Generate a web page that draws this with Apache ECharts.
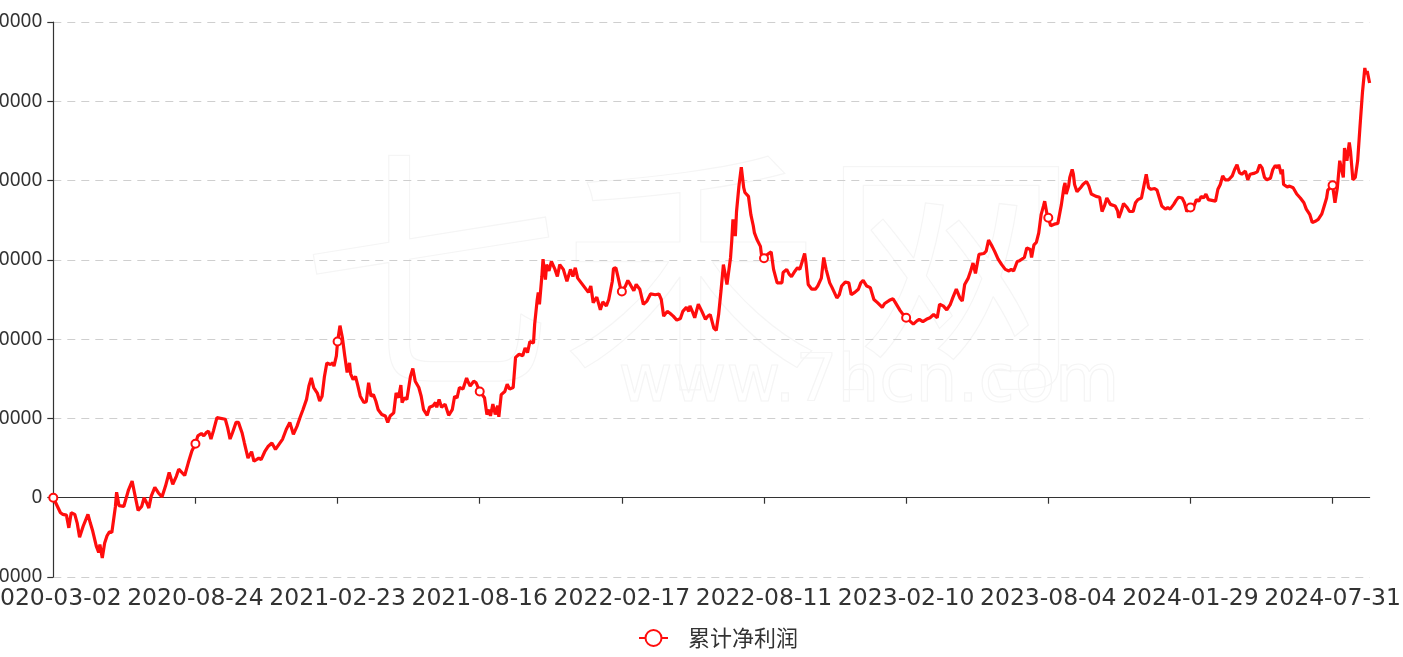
<!DOCTYPE html>
<html><head><meta charset="utf-8">
<script src="https://cdn.jsdelivr.net/npm/echarts@6/dist/echarts.min.js"></script>
<style>html,body{margin:0;padding:0;background:#fff}#c{width:1403px;height:657px}</style>
</head><body><div id="c"></div>
<script>
const seriesName = '累计净利润';
const watermarkTitle = '七禾网';
const watermarkUrl = 'www.7hcn.com';
const tickLabels = ['2020-03-02','2020-08-24','2021-02-23','2021-08-16','2022-02-17','2022-08-11','2023-02-10','2023-08-04','2024-01-29','2024-07-31'];
const tickDays = [0,119,238,357,476,595,714,833,952,1071];
const lastDay = 1102;
const yMin = -100000, yMax = 600000, yStep = 100000;
// trading-day index of each vertex
const days = [0,6,8,11,13,15,18,20,22,25,29,31,33,36,38,39,41,43,45,47,49,52,53,55,59,60,63,66,68,71,74,76,78,80,82,85,88,91,94,97,100,103,105,110,113,116,
119,121,124,126,128,130,132,134,137,144,146,148,150,153,155,158,160,163,166,168,172,174,177,180,183,186,192,195,198,201,204,207,209,212,214,216,218,221,223,225,227,229,232,234,235,237,
238,240,242,244,246,248,249,251,253,255,257,260,262,264,266,268,270,272,275,278,280,282,285,287,289,291,292,294,296,299,301,303,306,308,310,313,315,318,320,321,323,325,328,331,334,336,338,340,343,346,347,349,352,354,
357,361,363,365,366,368,370,372,373,375,378,380,382,385,387,390,393,395,397,399,402,403,405,406,407,409,410,412,413,415,417,420,422,424,427,430,433,435,437,439,442,445,448,450,452,455,458,460,463,465,468,469,471,473,475,
476,479,481,483,486,488,491,494,497,500,504,507,509,511,514,516,519,522,525,527,530,532,533,535,537,540,543,546,548,550,553,555,557,559,561,562,564,567,568,569,571,572,574,576,578,579,582,584,586,587,589,590,592,593,
595,598,601,603,606,610,611,614,616,618,621,623,625,627,629,630,632,635,638,640,643,645,647,650,652,656,658,660,663,666,668,671,674,676,678,681,684,687,690,694,696,700,703,705,709,712,
714,717,720,723,725,728,731,734,737,740,742,745,748,751,753,756,759,761,763,766,768,770,772,774,775,779,781,783,786,788,791,794,797,800,802,804,807,809,813,815,818,819,821,823,825,827,829,830,832,
833,835,838,841,844,846,847,848,850,851,853,854,855,857,860,862,865,867,869,873,876,878,880,882,885,889,891,892,894,896,899,901,904,906,908,911,913,915,917,919,922,924,926,928,931,933,935,938,940,942,945,947,949,
952,954,957,959,961,963,965,967,970,973,975,977,979,981,984,987,989,991,993,995,998,1000,1002,1005,1008,1010,1012,1014,1016,1019,1021,1023,1025,1026,1028,1029,1030,1033,1035,1038,1041,1044,1047,1049,1052,1054,1057,1059,1062,1064,1066,1067,
1071,1072,1073,1075,1077,1080,1081,1083,1085,1086,1088,1090,1092,1094,1096,1098,1099,1100,1102];
// cumulative net profit at each vertex
const values = [0,-19000,-21000,-22000,-38000,-19000,-21000,-32000,-50000,-36000,-21000,-32000,-42000,-61000,-69000,-59000,-76000,-57000,-48000,-43000,-44000,-11000,7000,-10000,-11000,-11000,10000,21000,6000,-16000,-11000,0,-6000,-13000,2000,13000,6000,1000,15000,32000,17000,27000,36000,28000,44000,59000,
68000,78000,81000,78000,82000,84000,74000,84000,101000,99000,88000,74000,82000,95000,95000,82000,69000,50000,58000,46000,50000,48000,58000,65000,69000,61000,74000,86000,95000,80000,90000,103000,111000,124000,141000,151000,139000,132000,122000,128000,153000,170000,168000,170000,166000,179000,
197000,217000,202000,179000,158000,170000,156000,149000,153000,141000,128000,120000,121000,145000,128000,130000,122000,111000,105000,103000,95000,103000,107000,132000,126000,142000,120000,126000,124000,153000,163000,147000,139000,128000,111000,104000,114000,116000,120000,114000,124000,114000,118000,104000,111000,128000,126000,139000,137000,151000,147000,141000,147000,145000,
134000,126000,105000,111000,103000,118000,105000,116000,102000,130000,134000,143000,137000,139000,177000,181000,179000,189000,183000,197000,195000,219000,248000,259000,244000,279000,301000,275000,294000,286000,298000,288000,279000,294000,288000,273000,288000,279000,290000,277000,271000,265000,259000,267000,246000,253000,237000,247000,242000,250000,273000,289000,290000,277000,263000,
260000,267000,274000,269000,261000,269000,263000,244000,248000,257000,256000,257000,250000,229000,235000,233000,229000,224000,226000,235000,240000,235000,242000,235000,227000,244000,235000,225000,229000,231000,214000,211000,231000,261000,294000,286000,269000,303000,324000,351000,330000,361000,393000,417000,391000,385000,380000,357000,343000,334000,326000,328000,317000,305000,
302000,307000,310000,288000,271000,271000,284000,288000,282000,279000,286000,290000,288000,298000,308000,298000,269000,263000,263000,267000,277000,303000,288000,271000,265000,252000,256000,267000,272000,271000,256000,259000,263000,271000,274000,267000,265000,250000,246000,240000,245000,249000,251000,246000,236000,230000,
227000,223000,219000,223000,225000,222000,225000,227000,231000,227000,244000,242000,237000,244000,252000,263000,252000,248000,269000,277000,286000,296000,283000,299000,307000,308000,311000,325000,317000,311000,301000,294000,288000,286000,288000,286000,298000,299000,303000,315000,313000,303000,319000,322000,334000,357000,368000,374000,357000,
353000,343000,345000,346000,370000,391000,397000,383000,393000,404000,414000,408000,395000,386000,391000,395000,399000,393000,383000,380000,379000,361000,368000,378000,370000,368000,362000,353000,361000,371000,366000,361000,361000,372000,376000,378000,393000,408000,391000,389000,390000,388000,378000,368000,364000,366000,364000,370000,375000,379000,378000,372000,361000,
366000,364000,376000,374000,380000,378000,383000,376000,375000,374000,389000,395000,406000,401000,401000,406000,414000,420000,410000,408000,412000,401000,408000,409000,411000,420000,416000,404000,401000,403000,414000,419000,416000,420000,408000,414000,395000,392000,393000,391000,383000,378000,372000,364000,357000,347000,349000,351000,358000,368000,378000,388000,
394000,383000,372000,391000,425000,404000,441000,425000,448000,437000,401000,404000,425000,469000,511000,542000,534000,538000,523000];

const lineColor = '#ff0d0d';
const textColor = '#333';
const data = days.map((d, i) => tickDays.indexOf(d) >= 0 ? [d, values[i]] : { value: [d, values[i]], symbol: 'none' });
const labelFor = v => {
  const k = Math.round(Number(v) / 119);
  return (Math.abs(k * 119 - Number(v)) < 0.5 && tickLabels[k]) ? tickLabels[k] : '';
};

const chart = echarts.init(document.getElementById('c'), null, { renderer: 'canvas' });
chart.setOption({
  animation: false,
  backgroundColor: '#fff',
  textStyle: { fontFamily: '"Noto Sans", "Noto Sans CJK SC", sans-serif' },
  graphic: [
    { type: 'text', z: -10, silent: true, left: 300, top: 140,
      style: { text: watermarkTitle, font: '260px "Noto Sans CJK SC"', fill: 'rgba(0,0,0,0)', stroke: '#f5f5f5', lineWidth: 1.2 } },
    { type: 'text', z: -10, silent: true, left: 618, top: 350,
      style: { text: watermarkUrl, font: '66px "DejaVu Sans"', fill: 'rgba(0,0,0,0)', stroke: '#f5f5f5', lineWidth: 1.2 } }
  ],
  grid: { left: 53.3, right: 33.4, top: 22, bottom: 80, containLabel: false, outerBoundsMode: 'none' },
  legend: {
    data: [seriesName], top: 622, left: 633,
    itemWidth: 29, itemHeight: 20,
    textStyle: { fontSize: 22, color: textColor, fontFamily: '"Noto Sans CJK SC", sans-serif', padding: [0, 0, 0, 15] }
  },
  xAxis: [{
    // date labels along the bottom edge of the plot
    type: 'value', min: 0, max: lastDay, interval: 119, position: 'bottom',
    axisLine: { show: false, onZero: false },
    axisTick: { show: false },
    axisLabel: { show: true, margin: 10, fontSize: 23.5, color: textColor, fontFamily: '"DejaVu Sans", sans-serif', formatter: labelFor },
    splitLine: { show: false }
  }, {
    // axis line and ticks on the zero level
    type: 'value', min: 0, max: lastDay, interval: 119, position: 'bottom',
    axisLine: { show: true, onZero: true, lineStyle: { color: textColor, width: 1.2 } },
    axisTick: { show: true, length: 6, customValues: tickDays, lineStyle: { color: textColor, width: 1.2 } },
    axisLabel: { show: false },
    splitLine: { show: false }
  }],
  yAxis: {
    type: 'value', min: yMin, max: yMax, interval: yStep,
    axisLine: { show: true, lineStyle: { color: textColor, width: 1.2 } },
    axisTick: { show: true, length: 6, lineStyle: { color: textColor, width: 1.2 } },
    axisLabel: { fontSize: 19, color: textColor, margin: 11, formatter: v => String(v) },
    splitLine: { show: true, lineStyle: { type: [8, 6], color: '#cfcfcf', width: 1.2 } }
  },
  series: [{
    name: seriesName, type: 'line', data: data, xAxisIndex: 0,
    symbol: 'emptyCircle', symbolSize: 8, showSymbol: true, showAllSymbol: true,
    lineStyle: { color: lineColor, width: 3.2 },
    itemStyle: { color: lineColor, borderWidth: 1.5 },
    emphasis: { disabled: true }
  }]
});
</script></body></html>
